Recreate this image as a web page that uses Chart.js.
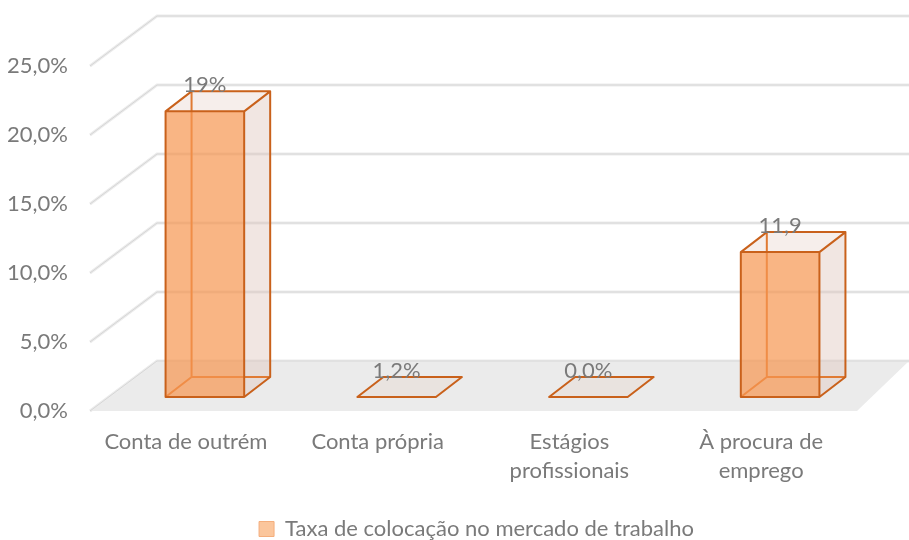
<!DOCTYPE html>
<html>
<head>
<meta charset="utf-8">
<script src="https://cdn.jsdelivr.net/npm/chart.js@4.4.1/dist/chart.umd.min.js"></script>
<style>
  html, body { margin: 0; padding: 0; background: #fff; }
</style>
</head>
<body>
<canvas id="chart" width="909" height="540"></canvas>
<script>
// dados do gráfico
const categories = ['Conta de outrém', 'Conta própria', ['Estágios', 'profissionais'], ['À procura de', 'emprego']]
const seriesName = 'Taxa de colocação no mercado de trabalho'
const values = [20.7, 0, 0, 10.5]
const valueLabels = ['19%', '1,2%', '0,0%', '11,9']
const yTicks = [0, 5, 10, 15, 20, 25]

// profundidade 3D (px)
const WALL_DX = 67
const WALL_DX_R = 52
const WALL_DY = 50
const BAR_OFF_X = 19
const BAR_OFF_Y = 14
const BAR_DX = 26
const BAR_DY = 20

const TEXT = '#7a7a7a'
const FONT = 'Lato, "Liberation Sans", sans-serif'
const EDGE = '#c9611b'

const poly = (ctx, pts) => {
  ctx.beginPath()
  ctx.moveTo(pts[0][0], pts[0][1])
  for (let i = 1; i < pts.length; i++) ctx.lineTo(pts[i][0], pts[i][1])
  ctx.closePath()
}

const box3d = {
  id: 'box3d',
  afterLayout(chart) {
    // centrar a legenda sob a área do gráfico
    const lg = chart.legend
    lg.left += 96
    lg.top += 10
    lg.bottom += 10
  },
  beforeDatasetsDraw(chart) {
    const { ctx, chartArea: { left, right }, scales: { x, y } } = chart
    ctx.save()
    const y0 = y.getPixelForValue(0)

    // chão
    ctx.fillStyle = '#ebebeb'
    poly(ctx, [[left, y0], [right, y0], [right + WALL_DX_R, y0 - WALL_DY], [left + WALL_DX, y0 - WALL_DY]])
    ctx.fill()

    // linhas de grelha
    yTicks.forEach((v) => {
      const py = y.getPixelForValue(v)
      const pts = [[left, py], [left + WALL_DX, py - WALL_DY], [right + WALL_DX_R, py - WALL_DY]]
      ctx.beginPath()
      ctx.moveTo(pts[0][0], pts[0][1])
      ctx.lineTo(pts[1][0], pts[1][1])
      ctx.lineTo(pts[2][0], pts[2][1])
      ctx.lineWidth = 3
      ctx.strokeStyle = '#ececec'
      ctx.stroke()
      ctx.lineWidth = 1
      ctx.strokeStyle = '#d6d6d6'
      ctx.stroke()
    })

    // barras
    const meta = chart.getDatasetMeta(0)
    ctx.lineJoin = 'round'
    meta.data.forEach((bar, i) => {
      const w = bar.width
      const x0 = bar.x - w / 2 + BAR_OFF_X
      const x1 = x0 + w
      const yb = bar.base - BAR_OFF_Y
      const yt = bar.y - BAR_OFF_Y

      if (yb - yt < 1) {
        poly(ctx, [[x0, yb], [x1, yb], [x1 + BAR_DX, yb - BAR_DY], [x0 + BAR_DX, yb - BAR_DY]])
        ctx.fillStyle = '#e9e3df'
        ctx.fill()
        ctx.lineWidth = 2
        ctx.strokeStyle = EDGE
        ctx.stroke()
      } else {
        // lado direito e topo
        poly(ctx, [[x1, yb], [x1, yt], [x1 + BAR_DX, yt - BAR_DY], [x1 + BAR_DX, yb - BAR_DY]])
        ctx.fillStyle = 'rgba(225,200,190,0.45)'
        ctx.fill()
        poly(ctx, [[x0, yt], [x1, yt], [x1 + BAR_DX, yt - BAR_DY], [x0 + BAR_DX, yt - BAR_DY]])
        ctx.fillStyle = 'rgba(225,200,190,0.3)'
        ctx.fill()

        // arestas escondidas
        ctx.beginPath()
        ctx.moveTo(x0, yb)
        ctx.lineTo(x0 + BAR_DX, yb - BAR_DY)
        ctx.lineTo(x0 + BAR_DX, yt - BAR_DY)
        ctx.moveTo(x0 + BAR_DX, yb - BAR_DY)
        ctx.lineTo(x1 + BAR_DX, yb - BAR_DY)
        ctx.lineWidth = 2
        ctx.strokeStyle = '#e07a33'
        ctx.stroke()

        // frente
        ctx.fillStyle = 'rgba(247,150,80,0.7)'
        ctx.fillRect(x0, yt, w, yb - yt)

        ctx.beginPath()
        ctx.rect(x0, yt, w, yb - yt)
        ctx.moveTo(x0, yt)
        ctx.lineTo(x0 + BAR_DX, yt - BAR_DY)
        ctx.lineTo(x1 + BAR_DX, yt - BAR_DY)
        ctx.lineTo(x1, yt)
        ctx.moveTo(x1 + BAR_DX, yt - BAR_DY)
        ctx.lineTo(x1 + BAR_DX, yb - BAR_DY)
        ctx.lineTo(x1, yb)
        ctx.lineWidth = 2
        ctx.strokeStyle = EDGE
        ctx.stroke()
      }

      // rótulos de dados
      ctx.fillStyle = TEXT
      ctx.font = '22px ' + FONT
      ctx.textAlign = 'center'
      ctx.textBaseline = 'middle'
      ctx.fillText(valueLabels[i], bar.x + BAR_OFF_X, yt - BAR_DY - 6)
    })
    ctx.restore()
    return false
  },
}

const ctx = document.getElementById('chart').getContext('2d')
new Chart(ctx, {
  type: 'bar',
  data: {
    labels: categories,
    datasets: [
      {
        label: seriesName,
        data: values,
        backgroundColor: '#fbc69c',
        borderColor: '#f4ae7c',
        borderWidth: 1,
        categoryPercentage: 1,
        barPercentage: 0.41,
      },
    ],
  },
  plugins: [box3d],
  options: {
    responsive: false,
    animation: false,
    layout: { padding: { top: 66, right: 52, left: 0, bottom: 0 } },
    plugins: {
      tooltip: { enabled: false },
      legend: {
        position: 'bottom',
        labels: {
          boxWidth: 15,
          boxHeight: 15,
          color: TEXT,
          padding: 10,
          font: { family: FONT, size: 22 },
        },
      },
    },
    scales: {
      x: {
        grid: { display: false, drawTicks: false },
        border: { display: false },
        ticks: {
          color: TEXT,
          padding: 16,
          maxRotation: 0,
          autoSkip: false,
          font: { family: FONT, size: 22, lineHeight: 1.33 },
        },
        afterFit: (s) => { s.height = 87 },
      },
      y: {
        min: 0,
        max: yTicks[yTicks.length - 1],
        grid: { display: false, drawTicks: false },
        border: { display: false },
        ticks: {
          stepSize: 5,
          padding: 22,
          color: TEXT,
          font: { family: FONT, size: 22 },
          callback: (v) => v.toFixed(1).replace('.', ',') + '%',
        },
        afterFit: (s) => { s.width = 90 },
      },
    },
  },
})
</script>
</body>
</html>
